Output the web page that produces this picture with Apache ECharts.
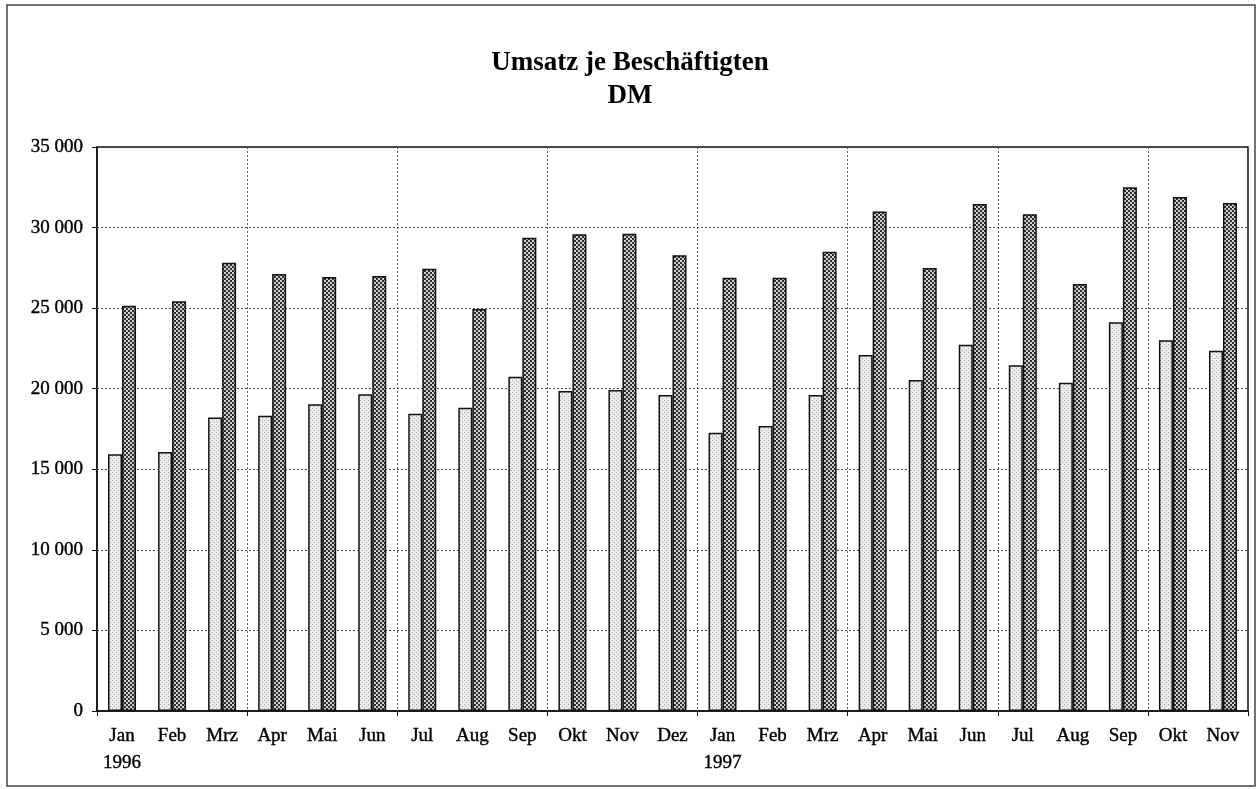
<!DOCTYPE html>
<html>
<head>
<meta charset="utf-8">
<script src="https://cdn.jsdelivr.net/npm/echarts@6/dist/echarts.min.js"></script>
<style>
  html, body { margin: 0; background: #fff; }
  #chart { width: 1260px; height: 789px; }
</style>
</head>
<body>
<div id="chart"></div>
<script>
const categories = [
  'Jan\n1996', 'Feb', 'Mrz', 'Apr', 'Mai', 'Jun', 'Jul', 'Aug', 'Sep', 'Okt', 'Nov', 'Dez',
  'Jan\n1997', 'Feb', 'Mrz', 'Apr', 'Mai', 'Jun', 'Jul', 'Aug', 'Sep', 'Okt', 'Nov',
]
// helle Säulen
const seriesLight = [
  15930, 16070, 18220, 18330, 19030, 19650, 18450, 18820, 20750, 19860, 19920, 19610,
  17270, 17690, 19610, 22090, 20540, 22730, 21450, 20370, 24120, 23000, 22360,
]
// dunkle Säulen
const seriesDark = [
  25150, 25420, 27820, 27120, 26930, 27000, 27450, 24950, 29370, 29580, 29620, 28280,
  26890, 26890, 28500, 30990, 27490, 31460, 30820, 26500, 32500, 31900, 31530,
]
const yTicks = { min: 0, max: 35000, interval: 5000 }

function makePattern(draw) {
  const c = document.createElement('canvas')
  c.width = 4
  c.height = 4
  draw(c.getContext('2d'))
  return { image: c, repeat: 'repeat' }
}

const lightFill = makePattern((ctx) => {
  ctx.fillStyle = '#ebebeb'
  ctx.fillRect(0, 0, 4, 4)
  ctx.fillStyle = '#a8a8a8'
  ctx.fillRect(0, 0, 1, 1)
  ctx.fillRect(2, 2, 1, 1)
})

const darkFill = makePattern((ctx) => {
  ctx.fillStyle = '#2e2e2e'
  ctx.fillRect(0, 0, 4, 4)
  ctx.fillStyle = '#cfcfcf'
  ctx.fillRect(0, 0, 2, 2)
  ctx.fillRect(2, 2, 2, 2)
})

const serif = '"Liberation Serif", "DejaVu Serif", serif'
const fmt = (v) => String(v).replace(/\B(?=(\d{3})+(?!\d))/g, ' ')
const everyThird = (i) => i % 3 === 0
const labelText = {
  fontFamily: serif,
  fontSize: 19,
  color: '#000',
  textBorderColor: '#000',
  textBorderWidth: 0.4,
}

const chart = echarts.init(document.getElementById('chart'))

chart.setOption({
  backgroundColor: '#fff',
  animation: false,
  title: {
    text: 'Umsatz je Beschäftigten\nDM',
    left: 'center',
    top: 42,
    textStyle: {
      fontFamily: serif,
      fontWeight: 'bold',
      fontSize: 27,
      lineHeight: 33,
      color: '#000',
    },
  },
  graphic: [
    {
      type: 'rect',
      shape: { x: 7, y: 5, width: 1248, height: 781 },
      style: { fill: 'none', stroke: '#444', lineWidth: 1.5 },
      silent: true,
    },
  ],
  grid: {
    left: 97,
    right: 12,
    top: 147,
    bottom: 78,
    show: true,
    borderColor: '#111',
    borderWidth: 1.5,
  },
  xAxis: {
    type: 'category',
    data: categories,
    axisLine: { lineStyle: { color: '#111', width: 1.5 } },
    axisTick: { show: true, interval: everyThird, length: 5, lineStyle: { color: '#111' } },
    axisLabel: {
      ...labelText,
      interval: 0,
      lineHeight: 27,
      margin: 12,
    },
    splitLine: {
      show: true,
      interval: everyThird,
      lineStyle: { color: '#555', type: [2, 2], width: 1 },
    },
  },
  yAxis: {
    type: 'value',
    min: yTicks.min,
    max: yTicks.max,
    interval: yTicks.interval,
    axisLine: { show: true, lineStyle: { color: '#111', width: 1.5 } },
    axisTick: { show: true, length: 5, lineStyle: { color: '#111' } },
    axisLabel: {
      ...labelText,
      margin: 14,
      formatter: fmt,
    },
    splitLine: { lineStyle: { color: '#444', type: [2, 2], width: 1 } },
  },
  series: [
    {
      name: 'hell',
      type: 'bar',
      data: seriesLight,
      barWidth: 14,
      barGap: '0%',
      itemStyle: { color: lightFill, borderColor: '#111', borderWidth: 1.5 },
    },
    {
      name: 'dunkel',
      type: 'bar',
      data: seriesDark,
      barWidth: 14,
      barGap: '0%',
      itemStyle: { color: darkFill, borderColor: '#111', borderWidth: 1.5 },
    },
  ],
})
</script>
</body>
</html>
